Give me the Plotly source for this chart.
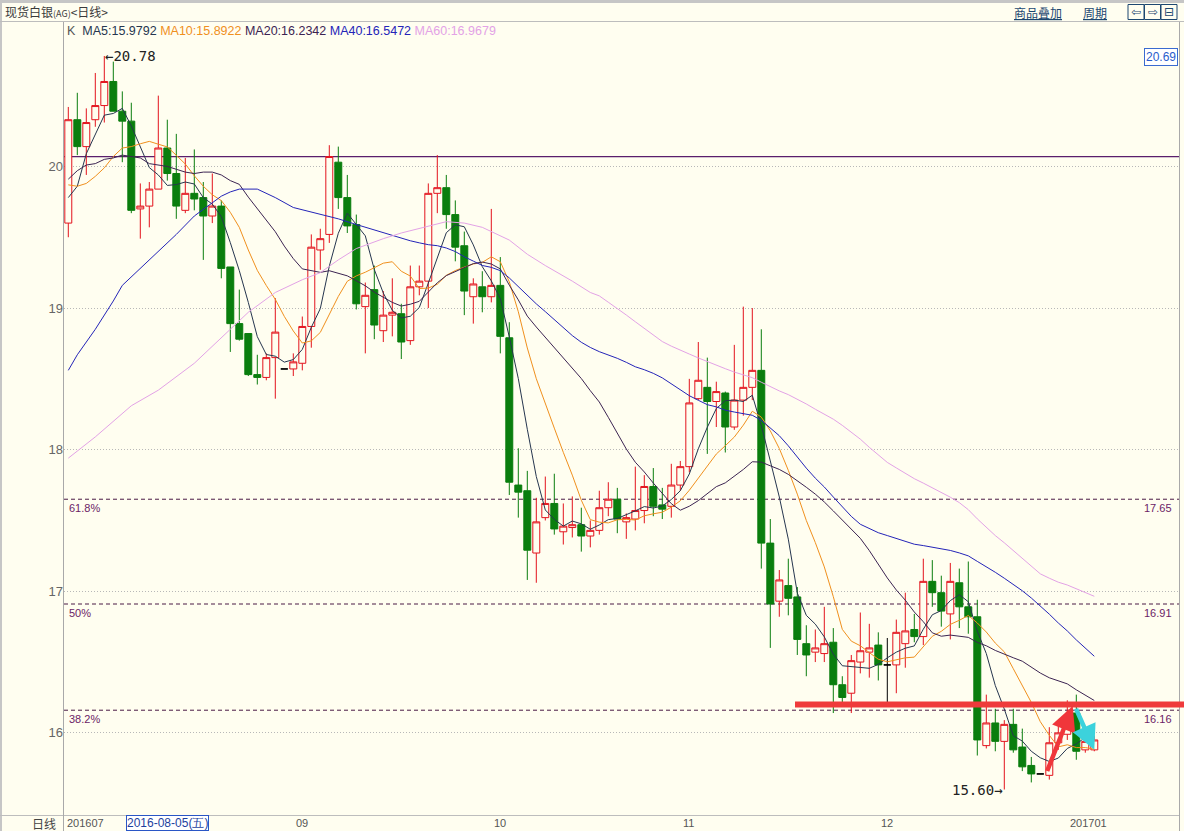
import numpy as np
import pandas as pd
import plotly.graph_objects as go

# ---------------- data ----------------
dates = [d.strftime("%Y-%m-%d") for d in pd.bdate_range("2016-07-28", "2017-01-05")
         if d.strftime("%Y-%m-%d") != "2016-12-26"]

opens = [19.60, 20.33, 20.14, 20.33, 20.43, 20.60, 20.39, 20.32, 19.70, 19.72,
         19.84, 20.13, 19.95, 19.69, 19.81, 19.78, 19.65, 19.72, 19.29, 18.89,
         18.82, 18.53, 18.51, 18.65, 18.57, 18.57, 18.61, 18.87, 19.41, 19.52,
         20.03, 19.78, 19.59, 19.01, 19.13, 18.84, 18.95, 18.96, 18.77, 19.15,
         19.19, 19.81, 19.85, 19.66, 19.44, 19.08, 19.15, 19.08, 19.16, 18.79,
         17.75, 17.71, 17.27, 17.52, 17.62, 17.42, 17.45, 17.47, 17.39, 17.43,
         17.59, 17.65, 17.49, 17.51, 17.57, 17.74, 17.61, 17.60, 17.75, 17.88,
         18.36, 18.44, 18.34, 18.40, 18.16, 18.35, 18.44, 18.56, 17.34, 16.93,
         17.04, 16.96, 16.63, 16.57, 16.56, 16.64, 16.34, 16.28, 16.50, 16.57,
         16.62, 16.48, 16.48, 16.63, 16.73, 16.68, 17.07, 16.99, 16.84, 17.06,
         16.89, 16.82, 15.91, 16.07, 15.94, 16.06, 15.90, 15.77, 15.71, 15.70,
         15.93, 15.99, 16.14, 15.88, 15.88]
highs = [20.42, 20.52, 20.41, 20.66, 20.78, 20.74, 20.53, 20.45, 19.88, 19.89,
         20.50, 20.33, 20.23, 20.06, 20.12, 19.89, 19.95, 19.76, 19.29, 19.13,
         18.82, 18.67, 18.68, 19.07, 18.57, 18.68, 18.94, 19.52, 19.56, 20.15,
         20.14, 19.94, 19.66, 19.18, 19.30, 19.12, 19.21, 19.03, 19.30, 19.30,
         19.88, 20.08, 19.94, 19.76, 19.54, 19.21, 19.26, 19.70, 19.36, 18.90,
         18.01, 17.85, 17.66, 17.81, 17.83, 17.62, 17.67, 17.59, 17.50, 17.71,
         17.77, 17.73, 17.55, 17.88, 17.82, 17.87, 17.73, 17.90, 17.92, 18.50,
         18.76, 18.65, 18.48, 18.41, 18.74, 19.01, 19.00, 18.85, 17.51, 17.15,
         17.23, 17.03, 16.76, 16.73, 16.89, 16.74, 16.40, 16.55, 16.85, 16.77,
         16.71, 16.67, 16.80, 16.99, 16.84, 17.23, 17.22, 17.11, 17.20, 17.16,
         17.21, 16.94, 16.27, 16.17, 16.09, 16.17, 16.03, 15.83, 15.71, 16.04,
         16.07, 16.23, 16.27, 15.98, 15.98]
lows = [19.50, 20.08, 19.94, 20.28, 20.31, 20.39, 20.03, 19.67, 19.49, 19.57,
        19.84, 19.90, 19.63, 19.67, 19.69, 19.34, 19.60, 19.21, 18.69, 18.77,
        18.52, 18.46, 18.49, 18.36, 18.57, 18.52, 18.56, 18.72, 19.27, 19.46,
        19.70, 19.53, 18.99, 18.68, 18.78, 18.76, 18.80, 18.64, 18.74, 19.09,
        19.00, 19.67, 19.56, 19.33, 18.95, 18.89, 18.97, 19.04, 18.68, 17.68,
        17.52, 17.08, 17.06, 17.50, 17.40, 17.33, 17.38, 17.28, 17.31, 17.40,
        17.53, 17.41, 17.37, 17.43, 17.48, 17.53, 17.51, 17.52, 17.71, 17.84,
        18.35, 17.97, 18.16, 17.98, 18.14, 18.24, 18.35, 17.16, 16.60, 16.82,
        16.83, 16.55, 16.40, 16.50, 16.50, 16.14, 16.21, 16.14, 16.42, 16.39,
        16.37, 16.21, 16.28, 16.46, 16.64, 16.62, 16.89, 16.75, 16.66, 16.74,
        16.70, 15.84, 15.89, 15.87, 15.60, 15.86, 15.73, 15.65, 15.71, 15.67,
        15.88, 15.95, 15.81, 15.86, 15.87]
closes = [20.33, 20.14, 20.31, 20.43, 20.60, 20.39, 20.32, 19.69, 19.72, 19.84,
          20.13, 19.95, 19.72, 19.81, 19.77, 19.65, 19.72, 19.28, 18.89, 18.78,
          18.53, 18.51, 18.65, 18.83, 18.57, 18.62, 18.87, 19.43, 19.49, 20.07,
          19.78, 19.58, 19.03, 19.09, 18.88, 18.95, 18.97, 18.76, 19.15, 19.19,
          19.81, 19.85, 19.66, 19.43, 19.12, 19.17, 19.08, 19.16, 18.80, 17.77,
          17.70, 17.29, 17.49, 17.62, 17.44, 17.46, 17.47, 17.39, 17.43, 17.59,
          17.65, 17.51, 17.52, 17.57, 17.74, 17.60, 17.58, 17.75, 17.88, 18.33,
          18.49, 18.34, 18.41, 18.16, 18.35, 18.44, 18.56, 17.34, 16.91, 17.08,
          16.95, 16.66, 16.55, 16.60, 16.63, 16.34, 16.25, 16.51, 16.58, 16.60,
          16.48, 16.48, 16.71, 16.72, 16.68, 17.07, 16.99, 16.86, 17.07, 16.89,
          16.82, 15.95, 16.07, 15.94, 16.06, 15.88, 15.76, 15.71, 15.71, 15.93,
          16.00, 16.10, 15.87, 15.94, 15.95]

ma5_head_idx = [0, 1, 2, 3]
ma5_head_val = [19.78, 19.86, 20.09, 20.23]
ma10_head_idx = [0, 1, 2, 3, 4, 5, 6, 7, 8]
ma10_head_val = [19.87, 19.86, 19.88, 19.93, 19.99, 20.07, 20.13, 20.14, 20.16]
ma20_head_idx = list(range(19))
ma20_head_val = [19.91, 19.97, 20.01, 20.02, 20.05, 20.06, 20.08, 20.07, 20.06, 20.02,
                 20.01, 20.00, 19.98, 19.96, 19.95, 19.96, 19.96, 19.94, 19.90]
ma40_head_idx = [0, 1, 3, 5, 6, 8, 10, 12, 14, 16, 17, 18, 19, 21, 23, 25, 27, 29, 30, 32, 35, 37, 38]
ma40_head_val = [18.56, 18.67, 18.85, 19.05, 19.16, 19.28, 19.40, 19.52, 19.65, 19.74, 19.79, 19.82,
                 19.84, 19.84, 19.78, 19.71, 19.68, 19.645, 19.63, 19.59, 19.53, 19.49, 19.475]
ma60_head_idx = [0, 3, 7, 10, 14, 18, 20, 23, 26, 28, 30, 32, 35, 37, 39, 42, 44, 46, 49, 51, 53, 56, 58]
ma60_head_val = [17.94, 18.09, 18.31, 18.42, 18.61, 18.85, 18.97, 19.11, 19.20, 19.25, 19.34, 19.42,
                 19.49, 19.53, 19.56, 19.61, 19.60, 19.57, 19.48, 19.38, 19.30, 19.19, 19.11]

ma_names = ["MA5", "MA10", "MA20", "MA40", "MA60"]
ma_windows = [5, 10, 20, 40, 60]
ma_last_text = ["15.9792", "15.8922", "16.2342", "16.5472", "16.9679"]
ma_colors = ["#26364f", "#f0901e", "#3c2452", "#2424b8", "#e3a2e6"]

month_keys = ["2016-07", "2016-09", "2016-10", "2016-11", "2016-12", "2017-01"]
month_labels = ["201607", "09", "10", "11", "12", "201701"]
y_ticks = [16, 17, 18, 19, 20]
fib_levels = [17.65, 16.91, 16.16]
fib_labels = ["61.8%", "50%", "38.2%"]
top_line_level = 20.07
resistance_level = 16.20
scale_box_text = "20.69"
cursor_date = "2016-08-05"
title_parts = ["现货白银", "(AG)", "<日线>"]
period_text = "日线"

# ---------------- geometry helpers (layout only) ----------------
W, H = 1184, 831
ML, MR, MT, MB = 64, 5, 22, 16
PW, PH = W - ML - MR, H - MT - MB
STEP = 9.0          # px per candle
FIRST = 68.3        # px of first candle centre
x_lo = -(FIRST - ML) / STEP
x_hi = x_lo + PW / STEP
y_lo, y_hi = 15.42, 21.02


def px(xp):
    return (xp - ML) / PW


def py(yp):
    return (H - MB - yp) / PH


BG = "#fffef0"
RED = "#e3131d"
GREEN = "#0a7e0e"

o = np.array(opens); h = np.array(highs); l = np.array(lows); c = np.array(closes)
idx = np.arange(len(closes))

fig = go.Figure()


def candles(mask, line_color, fill_color):
    return go.Candlestick(
        x=idx[mask], open=o[mask], high=h[mask], low=l[mask], close=c[mask],
        increasing=dict(line=dict(color=line_color, width=1), fillcolor=fill_color),
        decreasing=dict(line=dict(color=line_color, width=1), fillcolor=fill_color),
        whiskerwidth=0, showlegend=False, hoverinfo="skip")


fig.add_trace(candles(c > o, RED, BG))
fig.add_trace(candles(c < o, GREEN, GREEN))
fig.add_trace(candles(c == o, "#000000", "#000000"))

heads = [(ma5_head_idx, ma5_head_val), (ma10_head_idx, ma10_head_val),
         (ma20_head_idx, ma20_head_val), (ma40_head_idx, ma40_head_val),
         (ma60_head_idx, ma60_head_val)]
roll_src = pd.Series(closes)
for name, n, (hi_, hv), col in zip(ma_names, ma_windows, heads, ma_colors):
    roll = roll_src.rolling(n).mean()
    xs = list(hi_) + list(range(n - 1, len(closes)))
    ys = list(hv) + roll.iloc[n - 1:].tolist()
    fig.add_trace(go.Scatter(x=xs, y=ys, mode="lines", name=name,
                             line=dict(color=col, width=1), hoverinfo="skip",
                             showlegend=False))

shapes = []
# window chrome
shapes.append(dict(type="rect", xref="paper", yref="paper", x0=px(0), x1=px(W), y0=py(3), y1=py(0),
                   fillcolor="#c6c6c6", line=dict(width=0), layer="above"))
shapes.append(dict(type="rect", xref="paper", yref="paper", x0=px(0), x1=px(2), y0=py(H), y1=py(0),
                   fillcolor="#c6c6c6", line=dict(width=0), layer="above"))
shapes.append(dict(type="line", xref="paper", yref="paper", x0=px(0), x1=px(W), y0=py(21.5), y1=py(21.5),
                   line=dict(color="#bdbdbd", width=1), layer="above"))
shapes.append(dict(type="line", xref="paper", yref="paper", x0=px(0), x1=px(1179.5), y0=py(815.5), y1=py(815.5),
                   line=dict(color="#bdbdbd", width=1), layer="above"))
shapes.append(dict(type="line", xref="paper", yref="paper", x0=px(63.5), x1=px(63.5), y0=py(22), y1=py(H),
                   line=dict(color="#a9a9a9", width=1), layer="above"))
shapes.append(dict(type="line", xref="paper", yref="paper", x0=px(1179.5), x1=px(1179.5), y0=py(22), y1=py(H),
                   line=dict(color="#a9a9a9", width=1), layer="above"))
# reference lines
shapes.append(dict(type="line", xref="paper", yref="y", x0=0, x1=1, y0=top_line_level, y1=top_line_level,
                   line=dict(color="#5a1f6c", width=1.3), layer="below"))
for lv in fib_levels:
    shapes.append(dict(type="line", xref="paper", yref="y", x0=0, x1=1, y0=lv, y1=lv,
                       line=dict(color="#4a1a44", width=1, dash="4px,3px"), layer="below"))
shapes.append(dict(type="line", xref="paper", yref="y", x0=px(795), x1=px(W), y0=resistance_level,
                   y1=resistance_level, line=dict(color="#ef3b3b", width=6), layer="above"))
# toolbar icon boxes
for x0b in [1128, 1144.5, 1161]:
    shapes.append(dict(type="rect", xref="paper", yref="paper", x0=px(x0b), x1=px(x0b + 16),
                       y0=py(19.5), y1=py(4.5), line=dict(color="#1c4770", width=1),
                       fillcolor="rgba(0,0,0,0)", layer="above"))

ann = []
title_html = ('%s<span style="font-size:9px">%s</span>%s' % tuple(title_parts))
ann.append(dict(xref="paper", yref="paper", x=px(3), y=py(11), xanchor="left", yanchor="middle",
                text=title_html, showarrow=False,
                font=dict(family="Noto Sans CJK SC", size=12, color="#3a3a3a")))
for t, cx in [("商品叠加", 1038), ("周期", 1095)]:
    ann.append(dict(xref="paper", yref="paper", x=px(cx), y=py(12), xanchor="center", yanchor="middle",
                    text="<u>%s</u>" % t, showarrow=False,
                    font=dict(family="Noto Sans CJK SC", size=12, color="#1c4770")))
for t, cx in [("⇦", 1136), ("⇨", 1152.5), ("⊟", 1169)]:
    ann.append(dict(xref="paper", yref="paper", x=px(cx), y=py(12), xanchor="center", yanchor="middle",
                    text=t, showarrow=False, font=dict(family="DejaVu Sans", size=12, color="#1c4770")))

legend_parts = []
for name, val, col in zip(ma_names, ma_last_text, ma_colors):
    legend_parts.append('<span style="color:%s">%s:%s</span>' % (col, name, val))
ann.append(dict(xref="paper", yref="paper", x=px(65), y=py(31), xanchor="left", yanchor="middle",
                text='<span style="color:#555555">K</span>  ' + " ".join(legend_parts), showarrow=False,
                font=dict(family="Liberation Sans", size=12.5)))

ann.append(dict(xref="paper", yref="paper", x=px(1178), y=py(57), xanchor="right", yanchor="middle",
                text=scale_box_text, showarrow=False, bgcolor="#ffffff", bordercolor="#3a6bd0",
                borderwidth=1, borderpad=1, font=dict(family="Liberation Sans", size=12, color="#2a5ccc")))

for lv, lab in zip(fib_levels, fib_labels):
    ann.append(dict(xref="paper", yref="y", x=px(67), y=lv, xanchor="left", yanchor="top", yshift=-1,
                    text=lab, showarrow=False, font=dict(family="Liberation Sans", size=11, color="#6b2366")))
    ann.append(dict(xref="paper", yref="y", x=px(1174), y=lv, xanchor="right", yanchor="top", yshift=-1,
                    text="%.2f" % lv, showarrow=False,
                    font=dict(family="Liberation Sans", size=11, color="#6b2366")))

i_hi = int(np.argmax(h)); i_lo = int(np.argmin(l))
ann.append(dict(x=i_hi, y=h[i_hi], xref="x", yref="y", xanchor="left", yanchor="middle", xshift=-1,
                text="←%.2f" % h[i_hi], showarrow=False,
                font=dict(family="DejaVu Sans Mono", size=14, color="#222222")))
ann.append(dict(x=i_lo, y=l[i_lo], xref="x", yref="y", xanchor="right", yanchor="middle", xshift=1,
                text="%.2f→" % l[i_lo], showarrow=False,
                font=dict(family="DejaVu Sans Mono", size=14, color="#222222")))

# hand-drawn arrows
ann.append(dict(x=111.6, y=16.19, ax=108.7, ay=15.72, xref="x", yref="y", axref="x", ayref="y",
                text="", showarrow=True, arrowhead=2, arrowsize=1.1, arrowwidth=4.5, arrowcolor="#f0363a"))
ann.append(dict(x=114.0, y=15.88, ax=111.9, ay=16.18, xref="x", yref="y", axref="x", ayref="y",
                text="", showarrow=True, arrowhead=2, arrowsize=1.1, arrowwidth=4.5, arrowcolor="#3cd2dc"))

# bottom axis labels
ann.append(dict(xref="paper", yref="paper", x=px(58), y=py(823), xanchor="right", yanchor="middle",
                text=period_text, showarrow=False,
                font=dict(family="Noto Sans CJK SC", size=12, color="#444444")))
for key, lab in zip(month_keys, month_labels):
    i = next(k for k, d in enumerate(dates) if d.startswith(key))
    ann.append(dict(x=i, xref="x", yref="paper", y=py(823), xanchor="left", yanchor="middle",
                    xshift=-3 if i == 0 else 1,
                    text=lab, showarrow=False, font=dict(family="Liberation Sans", size=11, color="#555555")))
wk = "一二三四五六日"[pd.Timestamp(cursor_date).weekday()]
ann.append(dict(x=dates.index(cursor_date), xref="x", yref="paper", y=py(823), xanchor="left",
                yanchor="middle", xshift=4, text="%s(%s)" % (cursor_date, wk), showarrow=False,
                bgcolor="#ffffff", bordercolor="#2a56c6", borderwidth=1, borderpad=0,
                font=dict(family="Liberation Sans", size=12, color="#1e3f9e")))

fig.update_layout(
    width=W, height=H, autosize=False,
    margin=dict(l=ML, r=MR, t=MT, b=MB, pad=0),
    paper_bgcolor=BG, plot_bgcolor=BG,
    boxgap=0.12, boxgroupgap=0.12,
    showlegend=False,
    shapes=shapes, annotations=ann,
    font=dict(family="Liberation Sans", size=12, color="#555555"),
    xaxis=dict(range=[x_lo, x_hi], showgrid=False, zeroline=False, showticklabels=False,
               rangeslider=dict(visible=False), fixedrange=True, showline=False),
    yaxis=dict(range=[y_lo, y_hi], tickvals=y_ticks, ticktext=[str(v) for v in y_ticks],
               showgrid=True, gridcolor="#b8b8b8", griddash="1px,2px", gridwidth=1,
               zeroline=False, showline=False, ticks="", fixedrange=True,
               tickfont=dict(family="Liberation Sans", size=13, color="#666666")),
)

fig.write_html("out.html", config={"displayModeBar": False, "staticPlot": True},
               post_script="document.body.style.margin='0';document.body.style.overflow='hidden';")
